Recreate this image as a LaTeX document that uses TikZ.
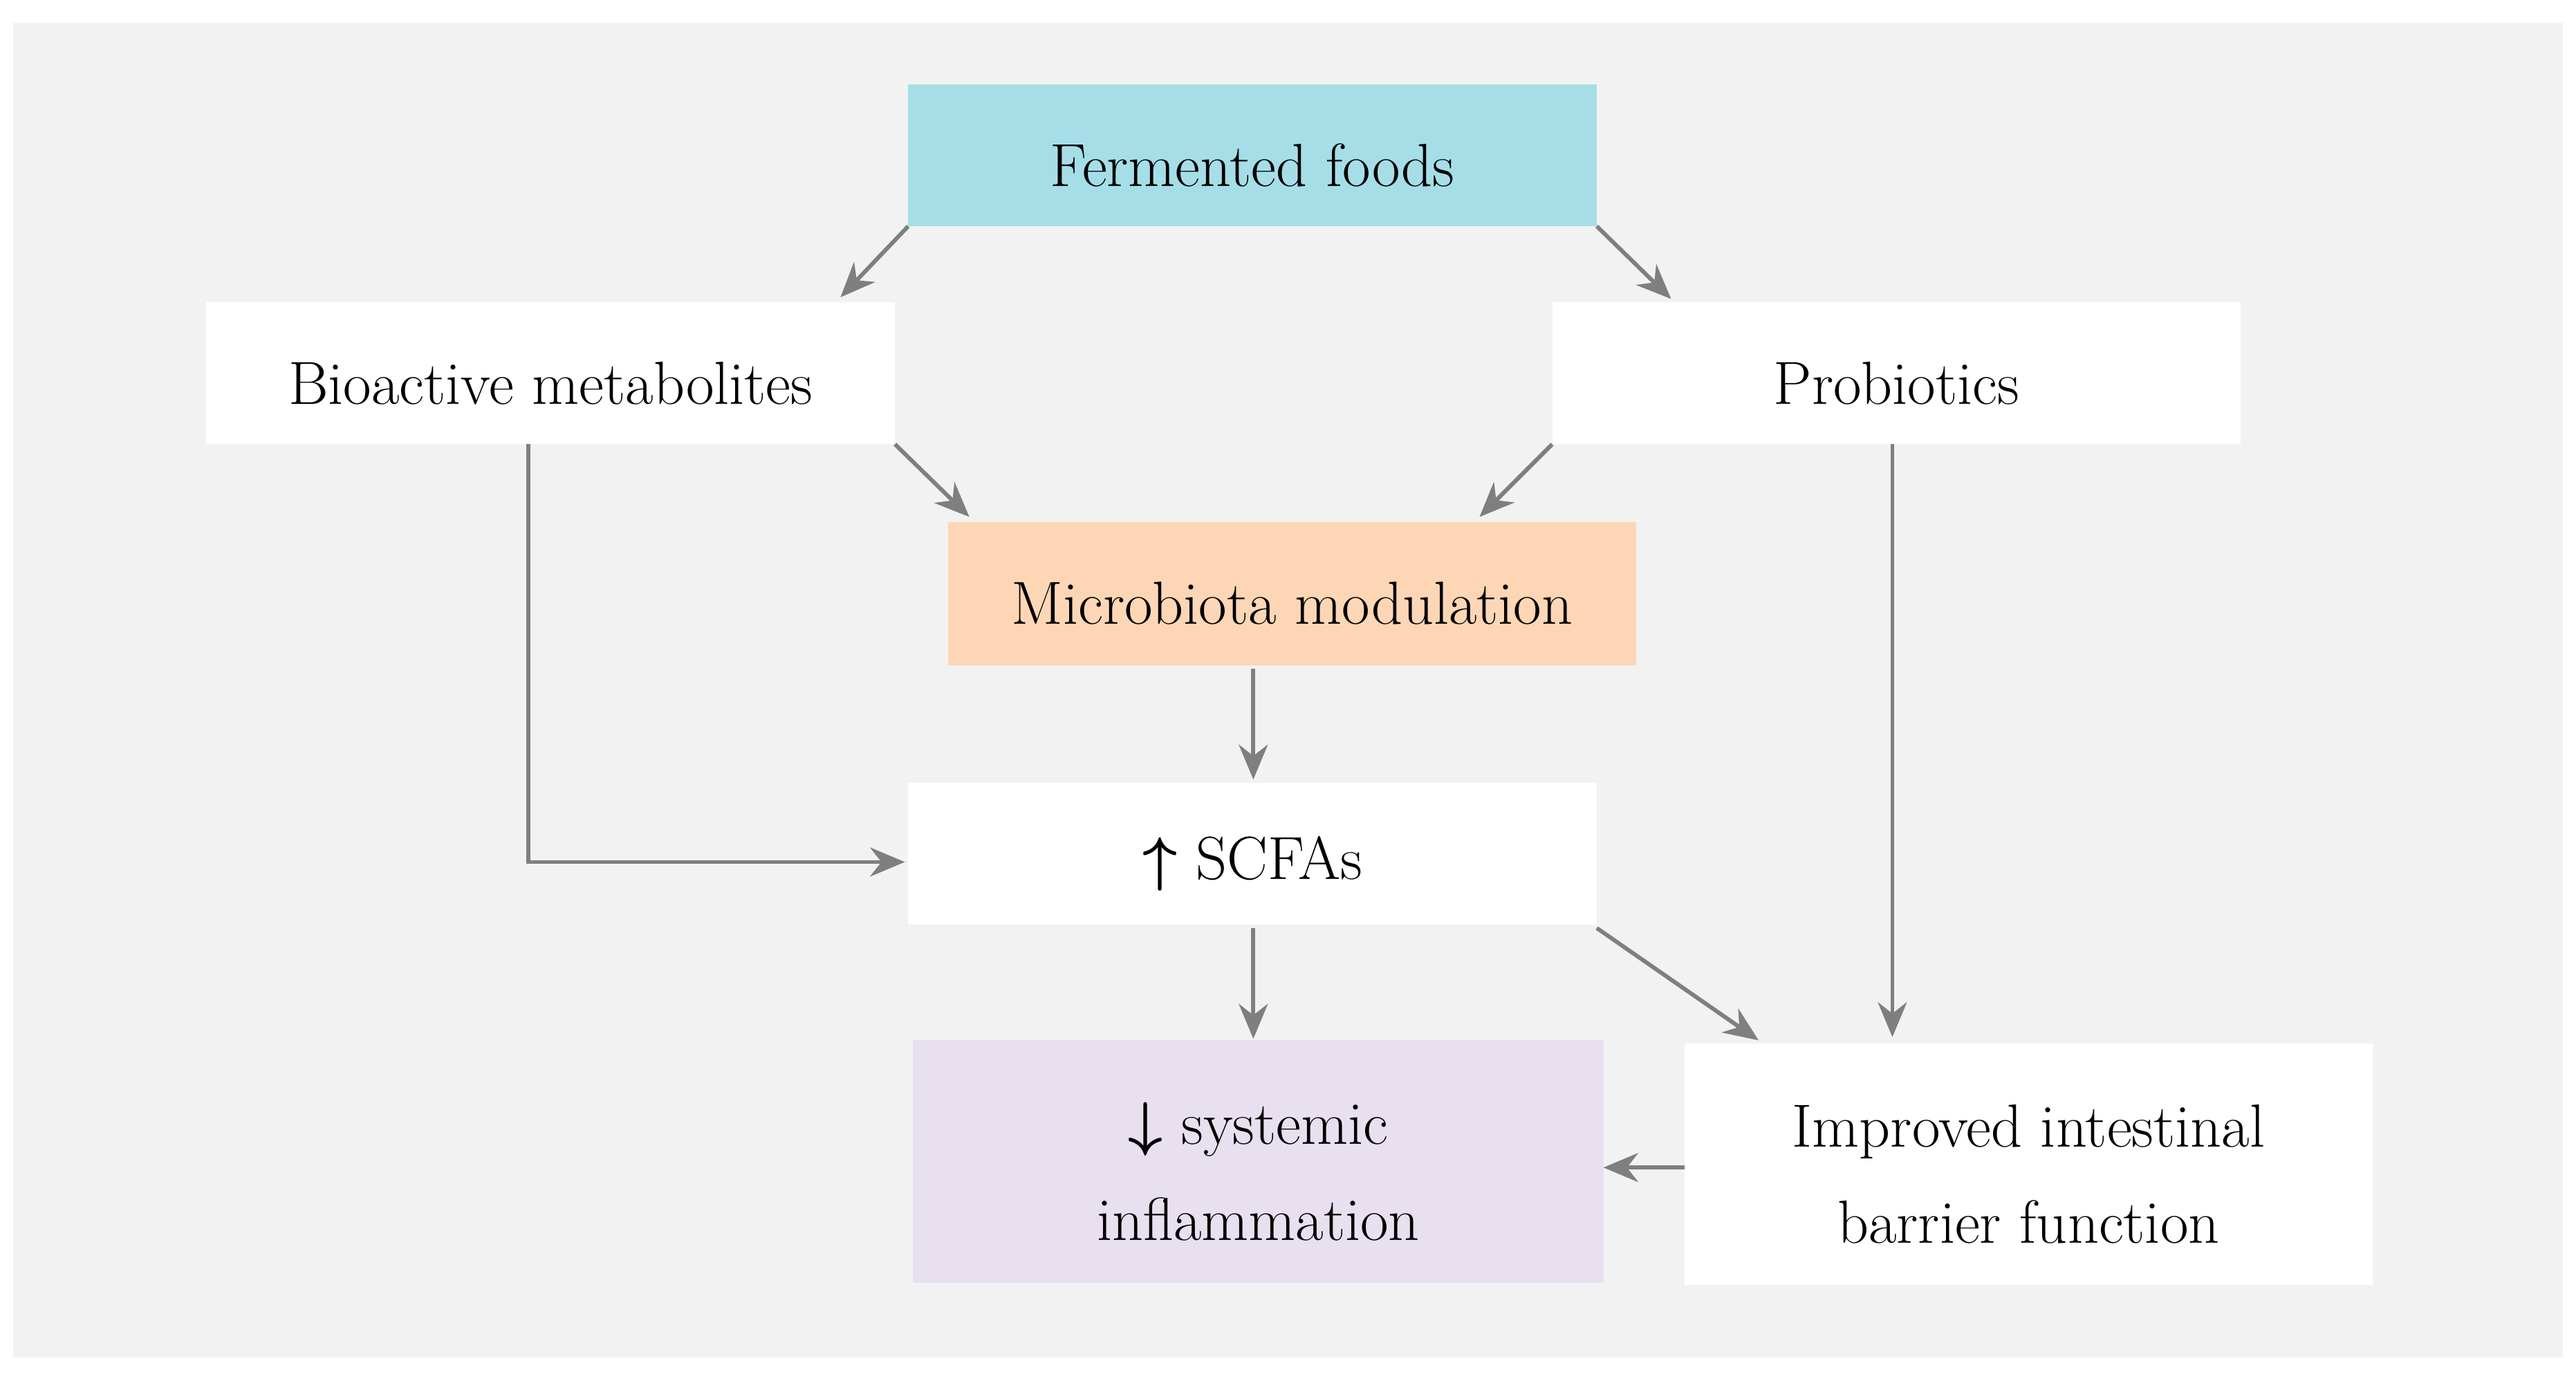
\documentclass[tikz,border=0pt]{standalone}
\usetikzlibrary{arrows.meta}
\definecolor{bg}{HTML}{F2F2F2}
\definecolor{cy}{HTML}{A6DEE8}
\definecolor{pe}{HTML}{FDD7B5}
\definecolor{la}{HTML}{E8E0EE}
\definecolor{ar}{HTML}{7F7F7F}
\begin{document}
\begin{tikzpicture}[x=0.02cm,y=-0.02cm,
  box/.style={draw=none,inner sep=0,align=center,font=\fontsize{21}{33}\selectfont},
  arr/.style={draw=ar,line width=1.4pt,-{Stealth[length=12pt,width=10pt]}}]
\useasboundingbox (0,0) rectangle (1560,835);
\fill[white] (0,0) rectangle (1560,835);
\fill[bg] (8,14) rectangle (1552,822);
\newcommand{\bx}[7]{\fill[#6] (#2,#3) rectangle (#4,#5);
  \node[box] (#1) at ({(#2+#4)/2},{(#3+#5)/2+6}) {#7};
  \coordinate (#1nw) at (#2,#3); \coordinate (#1se) at (#4,#5);}
\bx{ff}{550}{51}{967}{137}{cy}{Fermented foods}
\bx{bm}{125}{183}{542}{269}{white}{Bioactive metabolites}
\bx{pr}{940}{183}{1357}{269}{white}{Probiotics}
\bx{mm}{574}{316}{991}{403}{pe}{Microbiota modulation}
\bx{sc}{550}{474}{967}{560}{white}{{\boldmath$\uparrow$} SCFAs}
\bx{si}{553}{630}{971}{777}{la}{{\boldmath$\downarrow$} systemic\\inflammation}
\bx{ib}{1020}{632}{1437}{778}{white}{Improved intestinal\\barrier function}
\draw[arr] (ffnw|-ffse) -- (509,180);
\draw[arr] (ffse) -- (1012,181);
\draw[arr] (bmse) -- (587,313);
\draw[arr] (prnw|-prse) -- (896,313);
\draw[arr] (759,405) -- (759,472);
\draw[arr] (320,269) -- (320,522) -- (548,522);
\draw[arr] (759,562) -- (759,629);
\draw[arr] (967,562) -- (1065,630);
\draw[arr] (1146,269) -- (1146,628);
\draw[arr] (1020,707) -- (971,707);
\end{tikzpicture}
\end{document}
